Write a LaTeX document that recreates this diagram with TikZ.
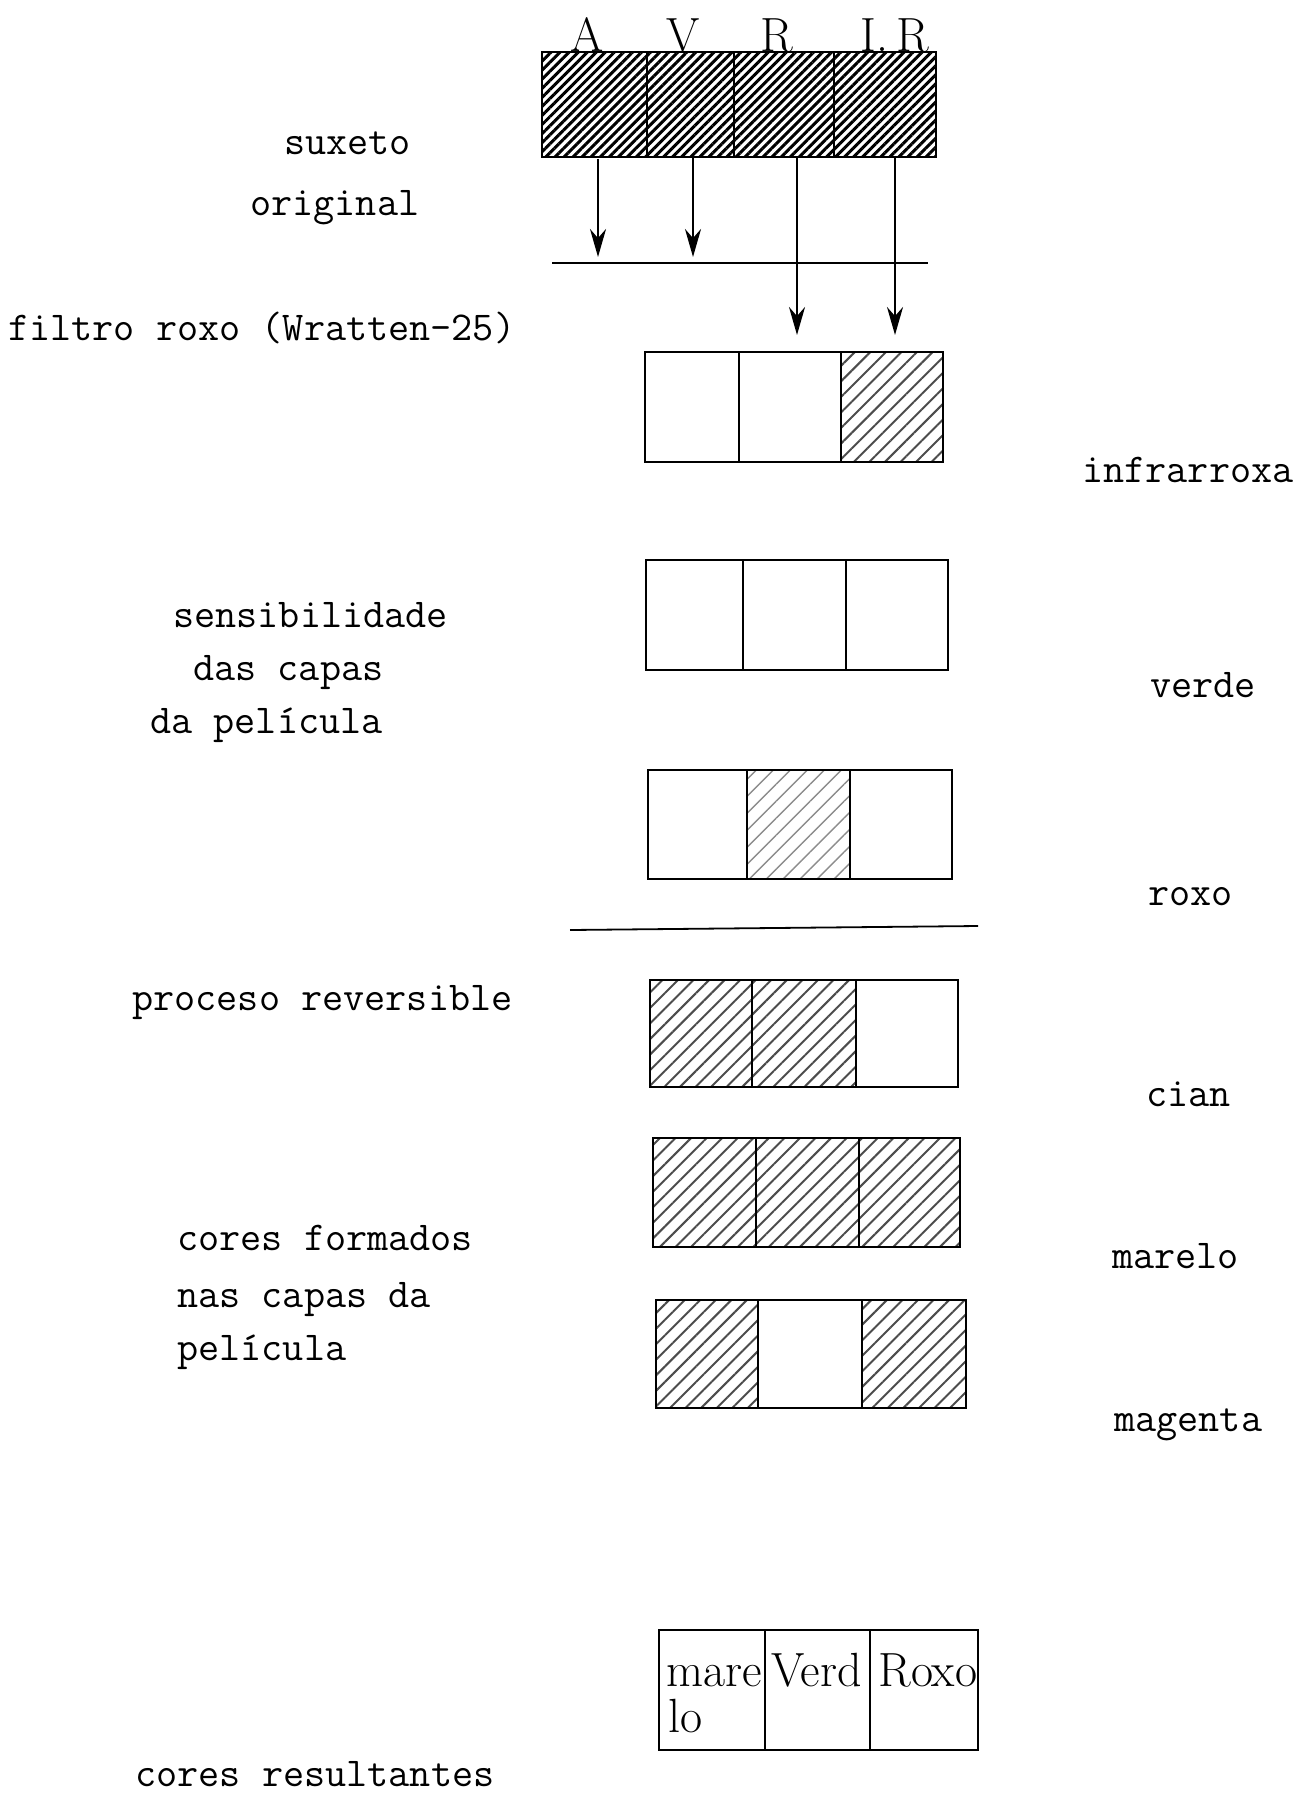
\documentclass[tikz,border=0pt]{standalone}
\usepackage{fontspec}
\usetikzlibrary{arrows.meta,patterns.meta,fit}

\tikzset{
  cell/.style={draw, line width=1.2pt, inner sep=0pt},
  hatchdense/.style={pattern={Lines[angle=45,distance=3.2pt,line width=1.5pt]}},
  hatch/.style={pattern={Lines[angle=45,distance=5.5pt,line width=1pt]}, pattern color=black!70},
  hatchfaint/.style={pattern={Lines[angle=45,distance=6pt,line width=0.7pt]}, pattern color=black!45},
  typed/.style={font=\ttfamily\fontsize{20.5}{24}\selectfont, inner sep=0pt, anchor=base west},
  hand/.style={font=\fontsize{24}{26}\selectfont, inner sep=0pt},
  flecha/.style={line width=1.3pt, -{Stealth[length=14pt,width=8pt]}},
}

\begin{document}
\begin{tikzpicture}[x=0.5pt, y=-0.5pt]
  \useasboundingbox (0,0) rectangle (1304,1798);

  % Original subject (four cells)
  \node[cell, hatchdense, fit={(542,52) (647,157)}] (sA) {};
  \node[cell, hatchdense, fit={(647,52) (734,157)}] (sV) {};
  \node[cell, hatchdense, fit={(734,52) (834,157)}] (sR) {};
  \node[cell, hatchdense, fit={(834,52) (936,157)}] (sIR) {};

  % Hand-written labels on top
  \node[hand, anchor=base] (lblA) at (587,52) {A};
  \node[hand, anchor=base] (lblV) at (683,52) {V};
  \node[hand, anchor=base] (lblR) at (777,52) {R};
  \node[hand, anchor=base] (lblIR) at (895,52) {I.\,R};

  % Filter and the arrows through it
  \coordinate (filtL) at (552,263);
  \coordinate (filtR) at (928,263);
  \draw[line width=1pt] (filtL) -- (filtR);

  \coordinate (tipA) at (598,257);
  \coordinate (tipV) at (693,257);
  \coordinate (tipR) at (797,335);
  \coordinate (tipIR) at (895,335);
  \draw[flecha] (sA.south -| tipA) -- (tipA);
  \draw[flecha] (sV.south -| tipV) -- (tipV);
  \draw[flecha] (sR.south -| tipR) -- (tipR);
  \draw[flecha] (sIR.south -| tipIR) -- (tipIR);

  % Layers of the film
  \node[cell, fit={(645,352) (739,462)}] (ir1) {};
  \node[cell, fit={(739,352) (841,462)}] (ir2) {};
  \node[cell, hatch, fit={(841,352) (943,462)}] (ir3) {};

  \node[cell, fit={(646,560) (743,670)}] (ve1) {};
  \node[cell, fit={(743,560) (846,670)}] (ve2) {};
  \node[cell, fit={(846,560) (948,670)}] (ve3) {};

  \node[cell, fit={(648,770) (747,879)}] (rx1) {};
  \node[cell, hatchfaint, fit={(747,770) (850,879)}] (rx2) {};
  \node[cell, fit={(850,770) (952,879)}] (rx3) {};

  % Separator
  \coordinate (sepL) at (570,930);
  \coordinate (sepR) at (978,926);
  \draw[line width=0.9pt] (sepL) -- (sepR);

  % Reversal process
  \node[cell, hatch, fit={(650,980) (752,1087)}] (ci1) {};
  \node[cell, hatch, fit={(752,980) (856,1087)}] (ci2) {};
  \node[cell, fit={(856,980) (958,1087)}] (ci3) {};

  \node[cell, hatch, fit={(653,1138) (756,1247)}] (ma1) {};
  \node[cell, hatch, fit={(756,1138) (859,1247)}] (ma2) {};
  \node[cell, hatch, fit={(859,1138) (960,1247)}] (ma3) {};

  \node[cell, hatch, fit={(656,1300) (758,1408)}] (mg1) {};
  \node[cell, fit={(758,1300) (862,1408)}] (mg2) {};
  \node[cell, hatch, fit={(862,1300) (966,1408)}] (mg3) {};

  % Resulting colours
  \node[cell, fit={(659,1630) (765,1750)}] (re1) {};
  \node[cell, fit={(765,1630) (870,1750)}] (re2) {};
  \node[cell, fit={(870,1630) (978,1750)}] (re3) {};
  \node[hand, anchor=base west] (tmare) at (666,1686) {mare};
  \node[hand, anchor=base west] (tlo) at (668,1732) {lo};
  \node[hand, anchor=base west] (tverd) at (771,1686) {Verd};
  \node[hand, anchor=base west] (troxo) at (878,1686) {Roxo};

  % Typed text, left
  \node[typed] (suxeto) at (284,155) {suxeto};
  \node[typed] (original) at (250,215) {original};
  \node[typed] (filtro) at (8,340) {filtro roxo (Wratten-25)};
  \node[typed] (sens1) at (173,627) {sensibilidade};
  \node[typed] (sens2) at (193,680) {das capas};
  \node[typed] (sens3) at (150,733) {da película};
  \node[typed] (proceso) at (132,1010) {proceso reversible};
  \node[typed] (form1) at (177,1250) {cores formados};
  \node[typed] (form2) at (177,1307) {nas capas da};
  \node[typed] (form3) at (177,1360) {película};
  \node[typed] (result) at (135,1786) {cores resultantes};

  % Typed text, right
  \node[typed] (infra) at (1082,482) {infrarroxa};
  \node[typed] (verde) at (1150,697) {verde};
  \node[typed] (roxo) at (1148,905) {roxo};
  \node[typed] (cian) at (1146,1106) {cian};
  \node[typed] (marelo) at (1112,1268) {marelo};
  \node[typed] (magenta) at (1114,1431) {magenta};

\end{tikzpicture}
\end{document}
